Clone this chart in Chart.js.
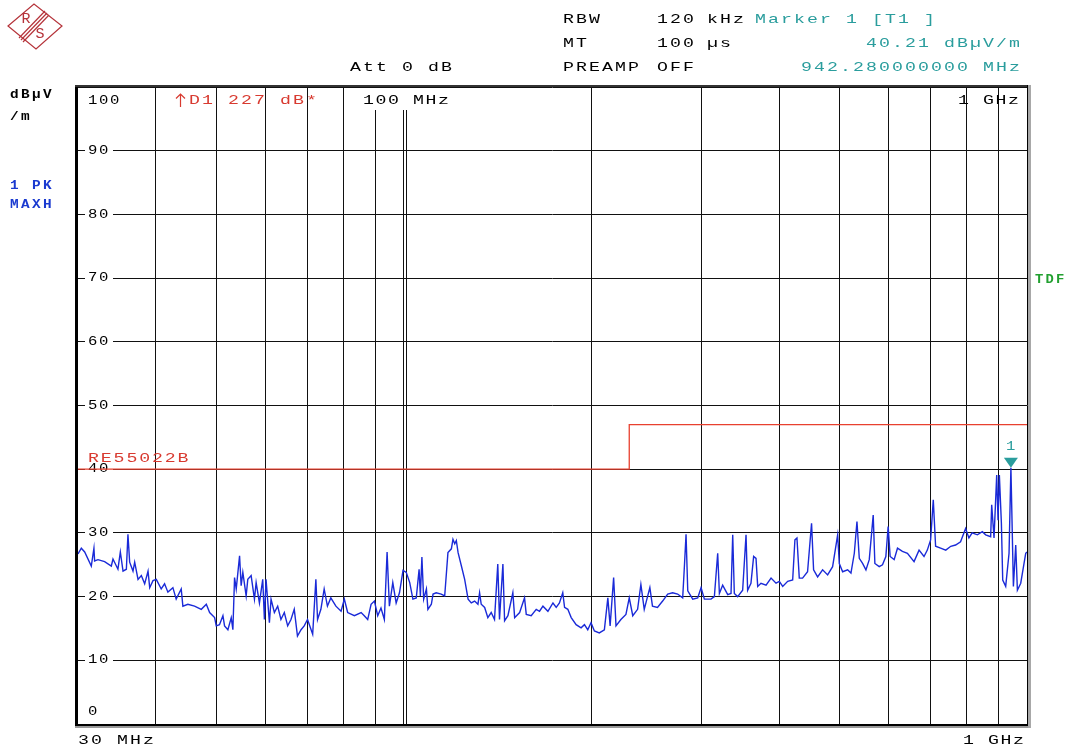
<!DOCTYPE html>
<html>
<head>
<meta charset="utf-8">
<title>RE55022B scan</title>
<script src="https://cdn.jsdelivr.net/npm/chart.js@4.4.0/dist/chart.umd.min.js"></script>
<style>
  html, body { margin: 0; padding: 0; background: #fff; }
  canvas { display: block; }
</style>
</head>
<body>
<canvas id="scan" width="1067" height="753"></canvas>
<script>
// trace 1 (PK, MAXH), MHz / dBuV/m
const traceFreqs = [
  30.0, 30.37, 30.75, 31.51, 31.82, 31.9, 32.3, 33.1, 33.93, 34.14, 34.77, 35.08, 35.43, 35.87, 36.08, 36.31,
  36.76, 36.99, 37.45, 37.91, 38.38, 38.86, 39.1, 39.58, 40.07, 40.8, 41.31, 41.82, 42.6, 43.12, 43.93, 44.2,
  45.02, 46.15, 47.31, 48.2, 48.79, 49.7, 50.0, 50.6, 51.25, 51.56, 52.2, 52.85, 53.17, 53.5, 53.83, 54.5,
  54.82, 55.16, 55.84, 56.18, 56.88, 57.58, 57.94, 58.65, 59.37, 59.74, 60.1, 60.85, 61.22, 61.98, 62.74, 63.5,
  64.3, 65.1, 65.9, 66.7, 67.5, 68.4, 69.2, 70.06, 71.4, 72.25, 72.7, 73.6, 74.5, 75.4, 76.35, 77.8,
  79.3, 80.26, 81.25, 83.3, 85.4, 86.4, 87.5, 88.6, 89.7, 90.8, 91.9, 93.05, 94.0, 94.8, 96.0, 97.2,
  98.4, 99.7, 100.9, 102.2, 103.4, 104.7, 105.8, 106.3, 106.9, 107.6, 108.7, 109.3, 110.7, 111.4, 112.7, 114.8,
  116.3, 117.7, 119.2, 119.9, 120.7, 121.4, 122.2, 123.7, 125.2, 126.8, 128.3, 129.9, 131.5, 132.3, 133.1, 134.8,
  136.4, 138.1, 139.8, 141.5, 142.4, 144.2, 145.1, 146.9, 149.6, 150.6, 153.4, 156.2, 157.2, 160.1, 163.1, 165.1,
  167.2, 170.3, 173.5, 175.6, 177.7, 179.9, 181.1, 183.3, 185.6, 189.0, 192.5, 194.9, 197.3, 199.7, 202.2, 205.9,
  209.8, 212.5, 214.3, 217.1, 219.0, 223.0, 227.2, 230.0, 233.0, 237.2, 240.1, 243.1, 248.2, 250.6, 255.3, 260.2,
  265.1, 270.0, 275.0, 280.2, 282.0, 283.7, 285.5, 290.8, 296.2, 299.9, 303.6, 311.1, 315.0, 318.9, 320.9, 324.8,
  330.9, 335.0, 337.1, 339.1, 343.3, 349.7, 354.1, 356.2, 360.6, 364.2, 367.4, 369.7, 374.2, 381.3, 388.4, 395.6,
  400.5, 405.5, 413.0, 420.7, 424.2, 427.4, 431.1, 436.4, 444.5, 451.1, 454.5, 461.3, 469.9, 478.7, 487.6, 496.8,
  499.8, 506.0, 515.4, 521.8, 528.3, 533.5, 538.1, 544.7, 551.5, 558.3, 566.5, 570.0, 579.2, 586.3, 593.6, 598.7,
  603.1, 612.1, 619.7, 631.1, 642.9, 658.8, 671.1, 683.5, 691.9, 700.4, 707.3, 713.4, 726.7, 740.7, 754.5, 768.1,
  782.3, 797.0, 806.8, 816.6, 832.4, 847.9, 858.4, 874.4, 877.7, 885.3, 894.1, 898.5, 902.9, 909.7, 914.2, 924.3,
  935.8, 942.28, 951.0, 959.2, 965.1, 977.1, 989.1, 995.3, 1000
];
const traceLevels = [
  26.7, 27.6, 27.0, 24.8, 27.6, 25.6, 25.8, 25.5, 24.8, 25.9, 24.3, 27.0, 24.0, 24.3, 29.8, 25.4,
  24.0, 25.4, 22.7, 23.3, 22.0, 24.0, 21.4, 22.5, 22.7, 21.2, 22.0, 20.7, 21.4, 19.6, 21.2, 18.5,
  18.8, 18.5, 18.0, 18.8, 17.5, 16.7, 15.4, 15.6, 17.0, 15.4, 14.8, 16.7, 14.8, 23.0, 21.2, 26.4,
  21.7, 23.8, 20.1, 22.7, 23.3, 19.6, 22.2, 19.0, 22.7, 16.4, 22.7, 15.9, 19.6, 17.5, 18.5, 16.4,
  17.5, 15.4, 16.4, 18.0, 13.8, 14.8, 15.4, 16.4, 14.1, 22.7, 16.4, 18.0, 21.2, 18.5, 19.8, 18.5,
  17.7, 19.6, 17.5, 17.0, 17.5, 17.0, 16.4, 18.8, 19.3, 17.0, 18.2, 16.4, 27.0, 18.5, 22.2, 19.0,
  20.6, 24.1, 23.8, 22.2, 19.6, 19.8, 24.3, 20.1, 26.2, 19.6, 21.2, 18.0, 18.8, 20.4, 20.6, 20.4,
  20.1, 26.9, 27.5, 29.0, 28.3, 28.8, 26.9, 24.8, 22.7, 19.6, 19.0, 19.3, 18.8, 20.6, 18.8, 18.3,
  16.7, 17.5, 16.4, 25.1, 16.4, 25.1, 16.2, 17.0, 20.6, 16.7, 17.5, 19.8, 17.2, 17.0, 18.0, 17.7,
  18.5, 17.7, 19.0, 18.3, 19.0, 20.6, 18.3, 18.0, 16.7, 15.6, 15.1, 15.6, 14.8, 15.9, 14.6, 14.3,
  14.8, 19.8, 15.4, 23.0, 15.4, 16.4, 17.2, 19.8, 17.0, 18.0, 21.9, 18.0, 21.4, 18.5, 18.3, 19.3,
  20.4, 20.6, 20.4, 19.8, 24.8, 29.8, 20.9, 19.6, 19.8, 21.4, 19.6, 19.6, 20.0, 26.8, 20.5, 21.8,
  20.3, 20.5, 29.7, 20.5, 20.0, 21.0, 29.7, 21.0, 22.1, 26.3, 26.0, 21.6, 22.1, 21.8, 22.9, 22.1,
  22.4, 21.6, 22.4, 22.6, 28.9, 29.2, 22.9, 22.9, 23.9, 31.5, 24.2, 23.1, 24.2, 23.4, 24.7, 29.7,
  25.2, 23.9, 24.2, 23.7, 26.8, 31.8, 26.0, 25.2, 24.2, 25.8, 32.8, 25.2, 24.7, 25.0, 26.3, 31.0,
  26.3, 25.8, 27.6, 27.1, 26.8, 25.5, 27.3, 26.3, 27.3, 28.9, 35.2, 27.9, 27.6, 27.3, 27.9, 28.1,
  28.6, 30.7, 29.2, 30.0, 29.7, 30.2, 29.7, 29.4, 34.4, 29.2, 39.1, 32.0, 39.1, 31.5, 22.6, 21.6,
  26.8, 40.21, 21.6, 28.1, 21.0, 22.1, 25.2, 26.8, 27.0
];

// limit line RE55022B
const limitFreqs = [30, 230, 230, 1000];
const limitLevels = [40, 40, 47, 47];

// grid / ticks
const gridFreqs = [40, 50, 60, 70, 80, 90, 100, 101, 200, 300, 400, 500, 600, 700, 800, 900];
const levelTicks = [0, 10, 20, 30, 40, 50, 60, 70, 80, 90, 100];
const levelLabels = ['10', '20', '30', '40', '50', '60', '70', '80', '90'];

// marker 1
const markerFreq = 942.28;
const markerLevel = 40.21;

const MONO = '"Liberation Mono", "DejaVu Sans Mono", monospace';
const TEAL = '#2a9d9d';
const RED = '#d83a30';

// draw text one glyph per cell, like the analyzer's fixed font
function mono(ctx, str, x, y, pitch, color, font, sx) {
  ctx.save();
  ctx.font = font || ('13px ' + MONO);
  ctx.fillStyle = color || '#000';
  ctx.textBaseline = 'middle';
  ctx.textAlign = 'center';
  const s = sx || 1.4;
  const half = ctx.measureText('M').width * s / 2;
  Array.from(str).forEach(function (ch, i) {
    ctx.save();
    ctx.translate(x + i * pitch + half, y);
    ctx.scale(s, 1);
    ctx.fillText(ch, 0, 0);
    ctx.restore();
  });
  ctx.restore();
}
function monoRight(ctx, str, xEnd, y, pitch, color, font, sx) {
  const n = Array.from(str).length;
  mono(ctx, str, xEnd - (n - 1) * pitch - 11, y, pitch, color, font, sx);
}

const overlay = {
  id: 'overlay',
  beforeDatasetsDraw(chart) {
    const ctx = chart.ctx;
    const ys = chart.scales.y;
    // level labels sit on the gridlines, with the line cut out behind them
    levelLabels.forEach(function (lab) {
      const py = ys.getPixelForValue(Number(lab));
      ctx.fillStyle = '#fff';
      ctx.fillRect(85, py - 7, 28, 14);
      mono(ctx, lab, 88, py, 11, '#000', '12px ' + MONO, 1.3);
    });
    mono(ctx, '100', 88, 101, 11, '#000', '12px ' + MONO, 1.3);
    mono(ctx, '0', 88, 712, 11, '#000', '12px ' + MONO, 1.3);

    ctx.fillStyle = '#fff';
    ctx.fillRect(358, 88, 98, 22);
    mono(ctx, '100 MHz', 363, 101, 12.5);
    mono(ctx, '1 GHz', 958, 101, 12.5);
    mono(ctx, 'D1 227 dB*', 189, 101, 13, RED);
    // the display-line arrow before D1
    ctx.save();
    ctx.strokeStyle = RED;
    ctx.lineWidth = 1.2;
    ctx.beginPath();
    ctx.moveTo(180.5, 107); ctx.lineTo(180.5, 94);
    ctx.moveTo(176, 98.5); ctx.lineTo(180.5, 94); ctx.lineTo(185, 98.5);
    ctx.stroke();
    ctx.restore();
    mono(ctx, 'RE55022B', 88, 459, 12.8, RED);
  },
  afterDraw(chart) {
    const ctx = chart.ctx;
    const a = chart.chartArea;
    const xs = chart.scales.x, ys = chart.scales.y;

    // frame
    ctx.save();
    ctx.strokeStyle = '#000';
    ctx.lineWidth = 3;
    ctx.beginPath(); ctx.moveTo(a.left - 1.5, a.top - 2); ctx.lineTo(a.left - 1.5, a.bottom + 3); ctx.stroke();
    ctx.lineWidth = 2;
    ctx.strokeStyle = '#333';
    ctx.beginPath(); ctx.moveTo(a.left - 3, a.top - 1); ctx.lineTo(a.right + 2, a.top - 1); ctx.stroke();
    ctx.strokeStyle = '#000';
    ctx.beginPath(); ctx.moveTo(a.left - 3, a.bottom + 1); ctx.lineTo(a.right + 4, a.bottom + 1); ctx.stroke();
    ctx.strokeStyle = '#999';
    ctx.beginPath(); ctx.moveTo(a.left - 3, a.bottom + 3); ctx.lineTo(a.right + 4, a.bottom + 3); ctx.stroke();
    ctx.lineWidth = 1;
    ctx.strokeStyle = '#000';
    ctx.beginPath(); ctx.moveTo(a.right + 0.5, a.top - 2); ctx.lineTo(a.right + 0.5, a.bottom + 2); ctx.stroke();
    ctx.lineWidth = 3;
    ctx.strokeStyle = '#a8a8a8';
    ctx.beginPath(); ctx.moveTo(a.right + 2.5, a.top - 2); ctx.lineTo(a.right + 2.5, a.bottom + 4); ctx.stroke();
    ctx.restore();

    // marker 1
    const mx = xs.getPixelForValue(markerFreq);
    const my = ys.getPixelForValue(markerLevel);
    ctx.save();
    ctx.fillStyle = TEAL;
    ctx.beginPath();
    ctx.moveTo(mx - 7, my - 10); ctx.lineTo(mx + 7, my - 10); ctx.lineTo(mx, my); ctx.closePath();
    ctx.fill();
    ctx.restore();
    mono(ctx, '1', mx - 5, my - 21, 12, TEAL, '13px ' + MONO, 1.2);

    // header
    mono(ctx, 'Att 0 dB', 350, 68, 13);
    mono(ctx, 'RBW', 563, 20, 13);
    mono(ctx, '120', 657, 20, 13);
    mono(ctx, 'kHz', 707, 20, 13);
    mono(ctx, 'MT', 563, 44, 13);
    mono(ctx, '100', 657, 44, 13);
    mono(ctx, '\u00b5s', 707, 44, 13);
    mono(ctx, 'PREAMP', 563, 68, 13);
    mono(ctx, 'OFF', 657, 68, 13);
    mono(ctx, 'Marker 1 [T1 ]', 755, 20, 13, TEAL);
    monoRight(ctx, '40.21 dB\u00b5V/m', 1020, 44, 13, TEAL);
    monoRight(ctx, '942.280000000 MHz', 1020, 68, 13, TEAL);

    // side labels
    const bold = 'bold 12px ' + MONO;
    mono(ctx, 'dB\u00b5V', 10, 95, 11, '#000', bold, 1.2);
    mono(ctx, '/m', 10, 117, 11, '#000', bold, 1.2);
    mono(ctx, '1 PK', 10, 186, 11, '#1a3ad0', bold, 1.2);
    mono(ctx, 'MAXH', 10, 205, 11, '#1a3ad0', bold, 1.2);
    mono(ctx, 'TDF', 1035, 280, 10.5, '#22a030', 'bold 12px ' + MONO, 1.15);

    // bottom frequency labels
    mono(ctx, '30 MHz', 78, 741, 13);
    mono(ctx, '1 GHz', 963, 741, 12.5);

    // R&S logo
    ctx.save();
    ctx.strokeStyle = '#b5333a';
    ctx.fillStyle = '#b5333a';
    ctx.lineWidth = 1.2;
    ctx.beginPath();
    ctx.moveTo(8, 26); ctx.lineTo(34, 4); ctx.lineTo(62, 26); ctx.lineTo(36, 49); ctx.closePath();
    ctx.stroke();
    for (let k = -2; k <= 2; k += 2) {
      ctx.beginPath(); ctx.moveTo(21 + k, 40 + k); ctx.lineTo(47 + k, 13 + k); ctx.stroke();
    }
    ctx.font = '15px ' + MONO;
    ctx.textAlign = 'center';
    ctx.textBaseline = 'middle';
    ctx.fillText('R', 26, 19);
    ctx.fillText('S', 40, 34);
    ctx.restore();
  }
};

const ctx = document.getElementById('scan').getContext('2d');
new Chart(ctx, {
  type: 'line',
  data: {
    datasets: [{
      label: '1 PK MAXH',
      data: traceFreqs.map(function (f, i) { return { x: f, y: traceLevels[i] }; }),
      borderColor: '#1a2ad8',
      borderWidth: 1.4,
      pointRadius: 0,
      tension: 0
    }, {
      label: 'RE55022B',
      data: limitFreqs.map(function (f, i) { return { x: f, y: limitLevels[i] }; }),
      borderColor: '#e8402f',
      borderWidth: 1.3,
      pointRadius: 0,
      tension: 0
    }]
  },
  options: {
    responsive: false,
    animation: false,
    events: [],
    layout: { padding: { left: 78, top: 87, right: 40, bottom: 29 } },
    plugins: { legend: { display: false }, tooltip: { enabled: false } },
    scales: {
      x: {
        type: 'logarithmic',
        min: 30,
        max: 1000,
        afterBuildTicks: function (scale) {
          scale.ticks = gridFreqs.map(function (v) { return { value: v }; });
        },
        ticks: { display: false },
        grid: { color: '#111', lineWidth: 1, drawTicks: false },
        border: { display: false }
      },
      y: {
        type: 'linear',
        min: 0,
        max: 100,
        afterBuildTicks: function (scale) {
          scale.ticks = levelTicks.map(function (v) { return { value: v }; });
        },
        ticks: { display: false },
        grid: { color: '#111', lineWidth: 1, drawTicks: false },
        border: { display: false }
      }
    }
  },
  plugins: [overlay]
});
</script>
</body>
</html>
